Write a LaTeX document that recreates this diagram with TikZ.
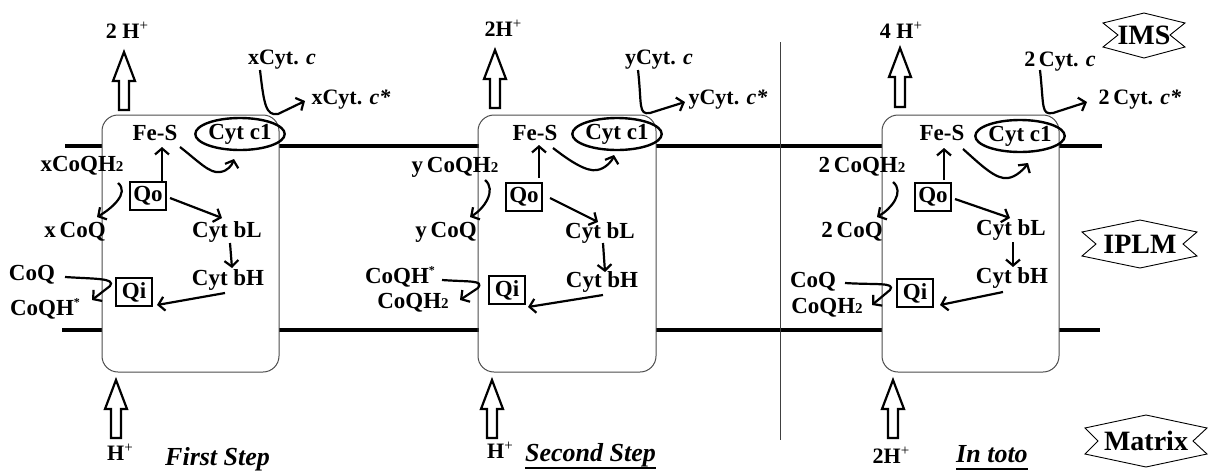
\documentclass[tikz,border=0pt]{standalone}
\usepackage{fontspec}
\setmainfont{Liberation Serif}
\usetikzlibrary{arrows.meta,calc,shapes.geometric}
\newcommand\subtwo{{\fontsize{15}{15}\selectfont 2}}
\newcommand\hplus{\raisebox{8pt}{\fontsize{15}{15}\selectfont\mdseries +}}
\newcommand\stara{\raisebox{9pt}{\fontsize{12}{12}\selectfont *}}
\begin{document}
\begin{tikzpicture}[x=1pt,y=-1pt,
  lbl/.style={font=\bfseries\fontsize{23}{23}\selectfont, inner sep=0pt},
  toplbl/.style={font=\bfseries\fontsize{22}{22}\selectfont, inner sep=0pt},
  steplbl/.style={font=\bfseries\itshape\fontsize{26}{26}\selectfont, inner sep=0pt},
  badgelbl/.style={font=\bfseries\fontsize{28}{28}\selectfont, inner sep=0pt},
  site/.style={draw, line width=2.2pt, font=\bfseries\fontsize{23}{23}\selectfont, inner sep=0pt, minimum width=36pt, minimum height=28pt},
  cyto/.style={draw, ellipse, line width=2.4pt, font=\bfseries\fontsize{23}{23}\selectfont, inner sep=0pt, minimum width=74pt, minimum height=32pt},
  arr/.style={line width=2.2pt, -{Straight Barb[length=6pt,width=14pt]}},
  mem/.style={line width=4pt},
  cplx/.style={draw=black!70, line width=1pt, rounded corners=16pt},
  blk/.style={draw, line width=2.2pt, fill=white, line join=miter},
  badge/.style={draw, line width=0.9pt},
  sep/.style={draw=black!75, line width=1pt},
  uline/.style={line width=2.2pt}
]
\useasboundingbox (0,0) rectangle (1208,472);

% membranes
\draw[mem] (65,146) -- (102,146);
\draw[mem] (279,146) -- (479,146);
\draw[mem] (656,146) -- (882,146);
\draw[mem] (1059,146) -- (1102,146);
\draw[mem] (62,330) -- (102,330);
\draw[mem] (279,330) -- (479,330);
\draw[mem] (656,330) -- (882,330);
\draw[mem] (1059,330) -- (1100,330);

% complexes
\draw[cplx] (102,115) rectangle (279,372);
\draw[cplx] (478,115) rectangle (656,372);
\draw[cplx] (882,115) rectangle (1059,372);

% separator
\draw[sep] (780,42) -- (780,440);

% block arrows
\foreach \cx/\tip/\bot in {124/52/110, 495/50/108, 900/48/107, 116/380/438, 492/380/438, 893/380/438}{
  \draw[blk] ({\cx-5},\bot) -- ({\cx-5},{\tip+29}) -- ({\cx-11},{\tip+29}) -- (\cx,\tip)
     -- ({\cx+11},{\tip+29}) -- ({\cx+5},{\tip+29}) -- ({\cx+5},\bot) -- cycle;
}

% top labels
\node[toplbl] (h1) at (127,30) {2 H\hplus};
\node[toplbl] (h2) at (503,28) {2H\hplus};
\node[toplbl] (h3) at (901,30) {4 H\hplus};
\node[toplbl] (cyc1) at (282,60) {xCyt. \textit{c}};
\node[toplbl] (cycs1) at (351,100) {xCyt. \textit{c*}};
\node[toplbl] (cyc2) at (659,60) {yCyt. \textit{c}};
\node[toplbl] (cycs2) at (728,100) {yCyt. \textit{c*}};
\node[toplbl] (cyc3) at (1060,62) {2\,Cyt. \textit{c}};
\node[toplbl] (cycs3) at (1140,100) {2\,Cyt. \textit{c*}};

\draw[arr] ([shift={(-22,10)}]cyc1.center) .. controls +(4,35) and +(-12,2) .. ([shift={(-73,14)}]cycs1.center) -- ([shift={(-46,1)}]cycs1.center);
\draw[arr] ([shift={(-21,10)}]cyc2.center) .. controls +(4,35) and +(-12,2) .. ([shift={(-78,13)}]cycs2.center) -- ([shift={(-43,2)}]cycs2.center);
\draw[arr] ([shift={(-20,8)}]cyc3.center) .. controls +(4,37) and +(-12,2) .. ([shift={(-87,13)}]cycs3.center) -- ([shift={(-53,2)}]cycs3.center);

% ---------- box 1 ----------
\node[lbl] (fes1) at (155,133) {Fe-S};
\node[cyto] (c11) at (240,134) {Cyt c1};
\node[site] (qo1) at (148,196) {Qo};
\node[lbl] (xq1) at (82,166) {xCoQH\subtwo};
\node[lbl] (xcq1) at (75,232) {x\,CoQ};
\node[lbl] (bl1) at (227,232) {Cyt bL};
\node[lbl] (bh1) at (228,280) {Cyt bH};
\node[lbl] (coq1) at (32,275) {CoQ};
\node[lbl] (coqh1) at (45,309) {CoQH\stara};
\node[site] (qi1) at (134,292) {Qi};

\draw[arr] ([shift={(14,-14)}]qo1.center) -- ([shift={(7,14)}]fes1.center);
\draw[arr] ([shift={(25,14)}]fes1.center) .. controls +(18,14) and +(-10,2) .. ([shift={(-20,38)}]c11.center) .. controls +(8,-1) and +(-2,6) .. ([shift={(-6,25)}]c11.center);
\draw[arr] ([shift={(36,17)}]xq1.center) .. controls +(12,10) and +(14,-8) .. ([shift={(22,-15)}]xcq1.center);
\draw[arr] ([shift={(22,2)}]qo1.center) -- ([shift={(-5,-14)}]bl1.center);
\draw[arr] ([shift={(3,11)}]bl1.center) -- ([shift={(4,-12)}]bh1.center);
\draw[arr] ([shift={(-3,13)}]bh1.center) -- ([shift={(23,13)}]qi1.center);
\draw[arr] ([shift={(33,2)}]coq1.center) .. controls +(30,2) and +(6,-8) .. ([shift={(65,-23)}]coqh1.center) -- ([shift={(47,-9)}]coqh1.center);

% ---------- box 2 ----------
\node[lbl] (fes2) at (535,133) {Fe-S};
\node[cyto] (c12) at (617,134) {Cyt c1};
\node[site] (qo2) at (524,197) {Qo};
\node[lbl] (yq2) at (455,167) {y\,CoQH\subtwo};
\node[lbl] (ycq2) at (446,232) {y\,CoQ};
\node[lbl] (bl2) at (600,233) {Cyt bL};
\node[lbl] (bh2) at (602,282) {Cyt bH};
\node[lbl] (coqhs2) at (400,277) {CoQH\stara};
\node[lbl] (coqh22) at (413,303) {CoQH\subtwo};
\node[site] (qi2) at (507,290) {Qi};

\draw[arr] ([shift={(15,-19)}]qo2.center) -- ([shift={(4,12)}]fes2.center);
\draw[arr] ([shift={(18,15)}]fes2.center) .. controls +(18,14) and +(-10,2) .. ([shift={(-20,36)}]c12.center) .. controls +(8,-1) and +(-2,6) .. ([shift={(-3,21)}]c12.center);
\draw[arr] ([shift={(30,13)}]yq2.center) .. controls +(12,10) and +(14,-8) .. ([shift={(24,-15)}]ycq2.center);
\draw[arr] ([shift={(26,1)}]qo2.center) -- ([shift={(-2,-11)}]bl2.center);
\draw[arr] ([shift={(3,10)}]bl2.center) -- ([shift={(3,-10)}]bh2.center);
\draw[arr] ([shift={(1,13)}]bh2.center) -- ([shift={(21,17)}]qi2.center);
\draw[arr] ([shift={(42,3)}]coqhs2.center) .. controls +(28,2) and +(6,-8) .. ([shift={(65,-15)}]coqh22.center) -- ([shift={(47,-3)}]coqh22.center);

% ---------- box 3 ----------
\node[lbl] (fes3) at (942,133) {Fe-S};
\node[cyto] (c13) at (1020,136) {Cyt c1};
\node[site] (qo3) at (933,197) {Qo};
\node[lbl] (cq3) at (862,167) {2\,CoQH\subtwo};
\node[lbl] (c2q3) at (852,232) {2\,CoQ};
\node[lbl] (bl3) at (1011,230) {Cyt bL};
\node[lbl] (bh3) at (1012,278) {Cyt bH};
\node[lbl] (coq3) at (813,282) {CoQ};
\node[lbl] (coqh3) at (827,308) {CoQH\subtwo};
\node[site] (qi3) at (915,293) {Qi};

\draw[arr] ([shift={(11,-17)}]qo3.center) -- ([shift={(2,15)}]fes3.center);
\draw[arr] ([shift={(21,16)}]fes3.center) .. controls +(18,16) and +(-12,2) .. ([shift={(-12,42)}]c13.center) .. controls +(8,-1) and +(-4,6) .. ([shift={(8,27)}]c13.center);
\draw[arr] ([shift={(31,15)}]cq3.center) .. controls +(12,10) and +(14,-8) .. ([shift={(25,-15)}]c2q3.center);
\draw[arr] ([shift={(22,2)}]qo3.center) -- ([shift={(-1,-12)}]bl3.center);
\draw[arr] ([shift={(2,12)}]bl3.center) -- ([shift={(1,-11)}]bh3.center);
\draw[arr] ([shift={(-9,14)}]bh3.center) -- ([shift={(25,12)}]qi3.center);
\draw[arr] ([shift={(32,1)}]coq3.center) .. controls +(30,2) and +(6,-8) .. ([shift={(63,-18)}]coqh3.center) -- ([shift={(45,-3)}]coqh3.center);

% bottom labels
\node[toplbl] (hb1) at (120,452) {H\hplus};
\node[toplbl] (hb2) at (500,450) {H\hplus};
\node[toplbl] (hb3) at (891,455) {2H\hplus};
\node[steplbl, anchor=base west] (s1) at (165,465) {First Step};
\node[steplbl, anchor=base west] (s2) at (525,461) {Second Step};
\node[steplbl, anchor=base west] (s3) at (956,462) {In toto};
\draw[uline] ([yshift=-7pt]s2.base west) -- ([yshift=-7pt]s2.base east);
\draw[uline] ([yshift=-7pt]s3.base west) -- ([yshift=-7pt]s3.base east);

% badges
\draw[badge] (1103,23) -- (1144,13) -- (1185,23) -- (1170,35) -- (1185,47) -- (1144,58) -- (1103,47) -- (1118,35) -- cycle;
\node[badgelbl] (ims) at (1144,35) {IMS};
\draw[badge] (1082,232) -- (1140,220) -- (1197,232) -- (1183,244) -- (1197,256) -- (1140,268) -- (1082,256) -- (1096,244) -- cycle;
\node[badgelbl] (iplm) at (1140,244) {IPLM};
\draw[badge] (1085,428) -- (1146,415) -- (1207,428) -- (1193,441) -- (1207,454) -- (1146,467) -- (1085,454) -- (1098,441) -- cycle;
\node[badgelbl] (matrix) at (1146,441) {Matrix};
\end{tikzpicture}
\end{document}
